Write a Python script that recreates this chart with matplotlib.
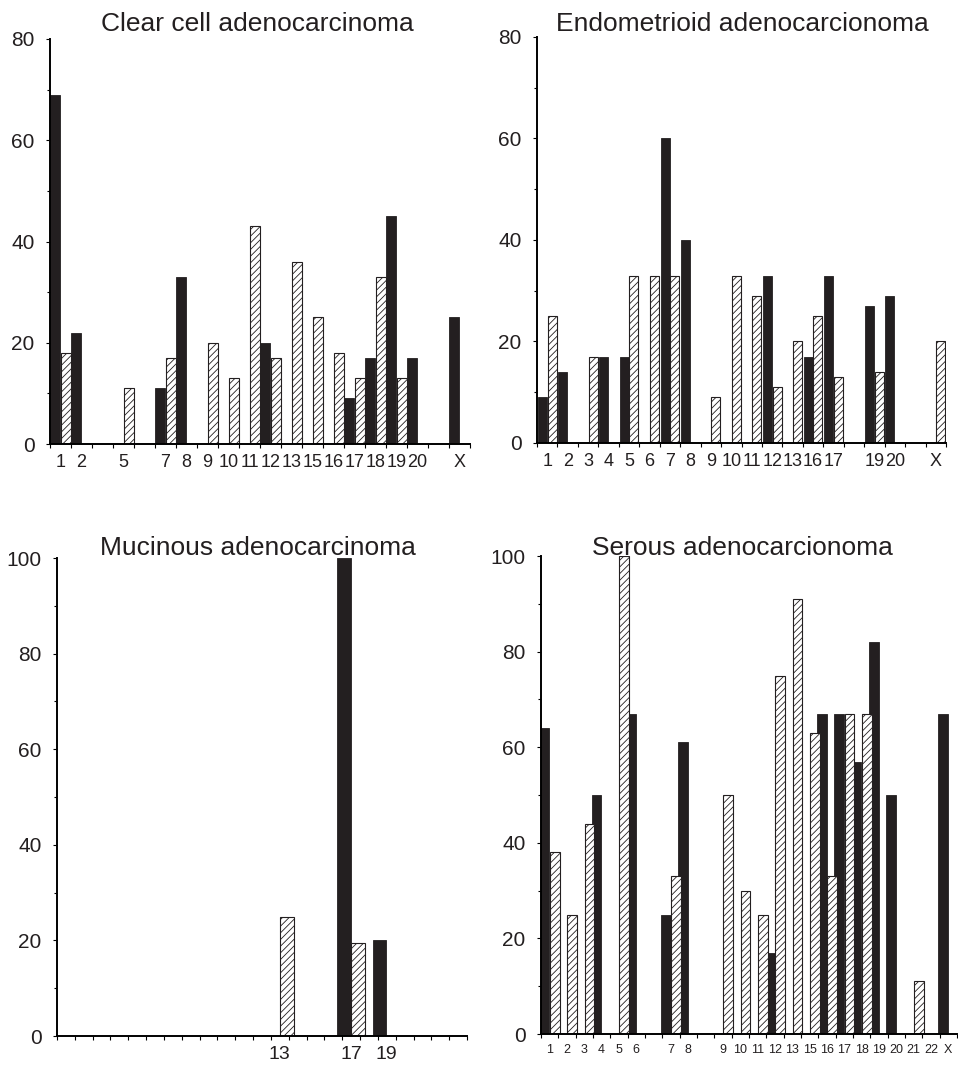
import numpy as np
import matplotlib
matplotlib.use("Agg")
import matplotlib.pyplot as plt
from matplotlib.ticker import FixedLocator, MultipleLocator

plt.rcParams['font.family'] = ['Liberation Sans', 'DejaVu Sans']
plt.rcParams['hatch.linewidth'] = 0.6

# Clear cell adenocarcinoma
cc_labels = ['1', '2', '', '5', '', '7', '8', '9', '10', '11', '12', '13', '15', '16', '17', '18', '19', '20', '', 'X']
cc_black = [69, 22, 0, 0, 0, 11, 33, 0, 0, 0, 20, 0, 0, 0, 9, 17, 45, 17, 0, 25]
cc_hatch = [18, 0, 0, 11, 0, 17, 0, 20, 13, 43, 17, 36, 25, 18, 13, 33, 13, 0, 0, 0]

# Endometrioid adenocarcionoma
en_labels = ['1', '2', '3', '4', '5', '6', '7', '8', '9', '10', '11', '12', '13', '16', '17', '', '19', '20', '', 'X']
en_black = [9, 14, 0, 17, 17, 0, 60, 40, 0, 0, 0, 33, 0, 17, 33, 0, 27, 29, 0, 0]
en_hatch = [25, 0, 17, 0, 33, 33, 33, 0, 9, 33, 29, 11, 20, 25, 13, 0, 14, 0, 0, 20]

# Mucinous adenocarcinoma
mu_labels = ['', '', '', '', '', '', '', '', '', '', '', '', '13', '', '', '', '17', '', '19', '', '', '', '']
mu_black = [0, 0, 0, 0, 0, 0, 0, 0, 0, 0, 0, 0, 0, 0, 0, 0, 100, 0, 20, 0, 0, 0, 0]
mu_hatch = [0, 0, 0, 0, 0, 0, 0, 0, 0, 0, 0, 0, 25, 0, 0, 0, 19.5, 0, 0, 0, 0, 0, 0]

# Serous adenocarcionoma
se_labels = ['1', '2', '3', '4', '5', '6', '', '7', '8', '', '9', '10', '11', '12', '13', '15', '16', '17', '18', '19', '20', '21', '22', 'X']
se_black = [64, 0, 0, 50, 0, 67, 0, 25, 61, 0, 0, 0, 0, 17, 0, 0, 67, 67, 57, 82, 50, 0, 0, 67]
se_hatch = [38, 25, 44, 0, 100, 0, 0, 33, 0, 0, 50, 30, 25, 75, 91, 63, 33, 67, 67, 0, 0, 11, 0, 0]

dark = '#231f20'

fig = plt.figure(figsize=(9.58, 10.79), dpi=100)
W, H = 958.0, 1079.0


def panel(box, title, title_xy, labels, black, hatch, ymax, width, xsize):
    l, r, t, b = box
    ax = fig.add_axes([l / W, 1 - b / H, (r - l) / W, (b - t) / H])
    x = np.arange(len(labels))
    off = width / 2 + 0.02
    ax.bar(x - off, black, width, color=dark, edgecolor=dark, linewidth=0.6)
    ax.bar(x + off, hatch, width, color='white', edgecolor=dark, linewidth=0.8, hatch='/////')
    ax.set_xlim(-0.5, len(labels) - 0.5)
    ax.set_ylim(0, ymax)
    ax.spines['top'].set_visible(False)
    ax.spines['right'].set_visible(False)
    ax.spines['left'].set_linewidth(1.4)
    ax.spines['bottom'].set_linewidth(1.4)
    ax.set_xticks(x)
    ax.set_xticklabels(labels, fontsize=xsize, color=dark)
    ax.xaxis.set_minor_locator(FixedLocator(np.arange(-0.5, len(labels), 0.5)))
    ax.tick_params(axis='x', which='major', length=0, pad=7)
    ax.tick_params(axis='x', which='minor', length=3, width=0.8, direction='out')
    ax.yaxis.set_major_locator(MultipleLocator(20))
    ax.yaxis.set_minor_locator(MultipleLocator(10))
    ax.tick_params(axis='y', which='major', length=3, width=0.8, labelsize=15, pad=8, labelcolor=dark)
    ax.tick_params(axis='y', which='minor', length=2, width=0.8)
    fig.text(title_xy[0] / W, 1 - title_xy[1] / H, title, ha='center', va='center',
             fontsize=19, color=dark)
    return ax


panel((50, 470, 39, 444), 'Clear cell adenocarcinoma', (257, 24),
      cc_labels, cc_black, cc_hatch, 80, 0.46, 13)
panel((537, 946, 37, 443), 'Endometrioid adenocarcionoma', (742, 24),
      en_labels, en_black, en_hatch, 80, 0.44, 13)
panel((57, 467, 558, 1036), 'Mucinous adenocarcinoma', (258, 548),
      mu_labels, mu_black, mu_hatch, 100, 0.76, 14)
panel((541, 957, 556, 1034), 'Serous adenocarcionoma', (742, 548),
      se_labels, se_black, se_hatch, 100, 0.55, 9)

fig.savefig('out.png', dpi=100, facecolor='white')
